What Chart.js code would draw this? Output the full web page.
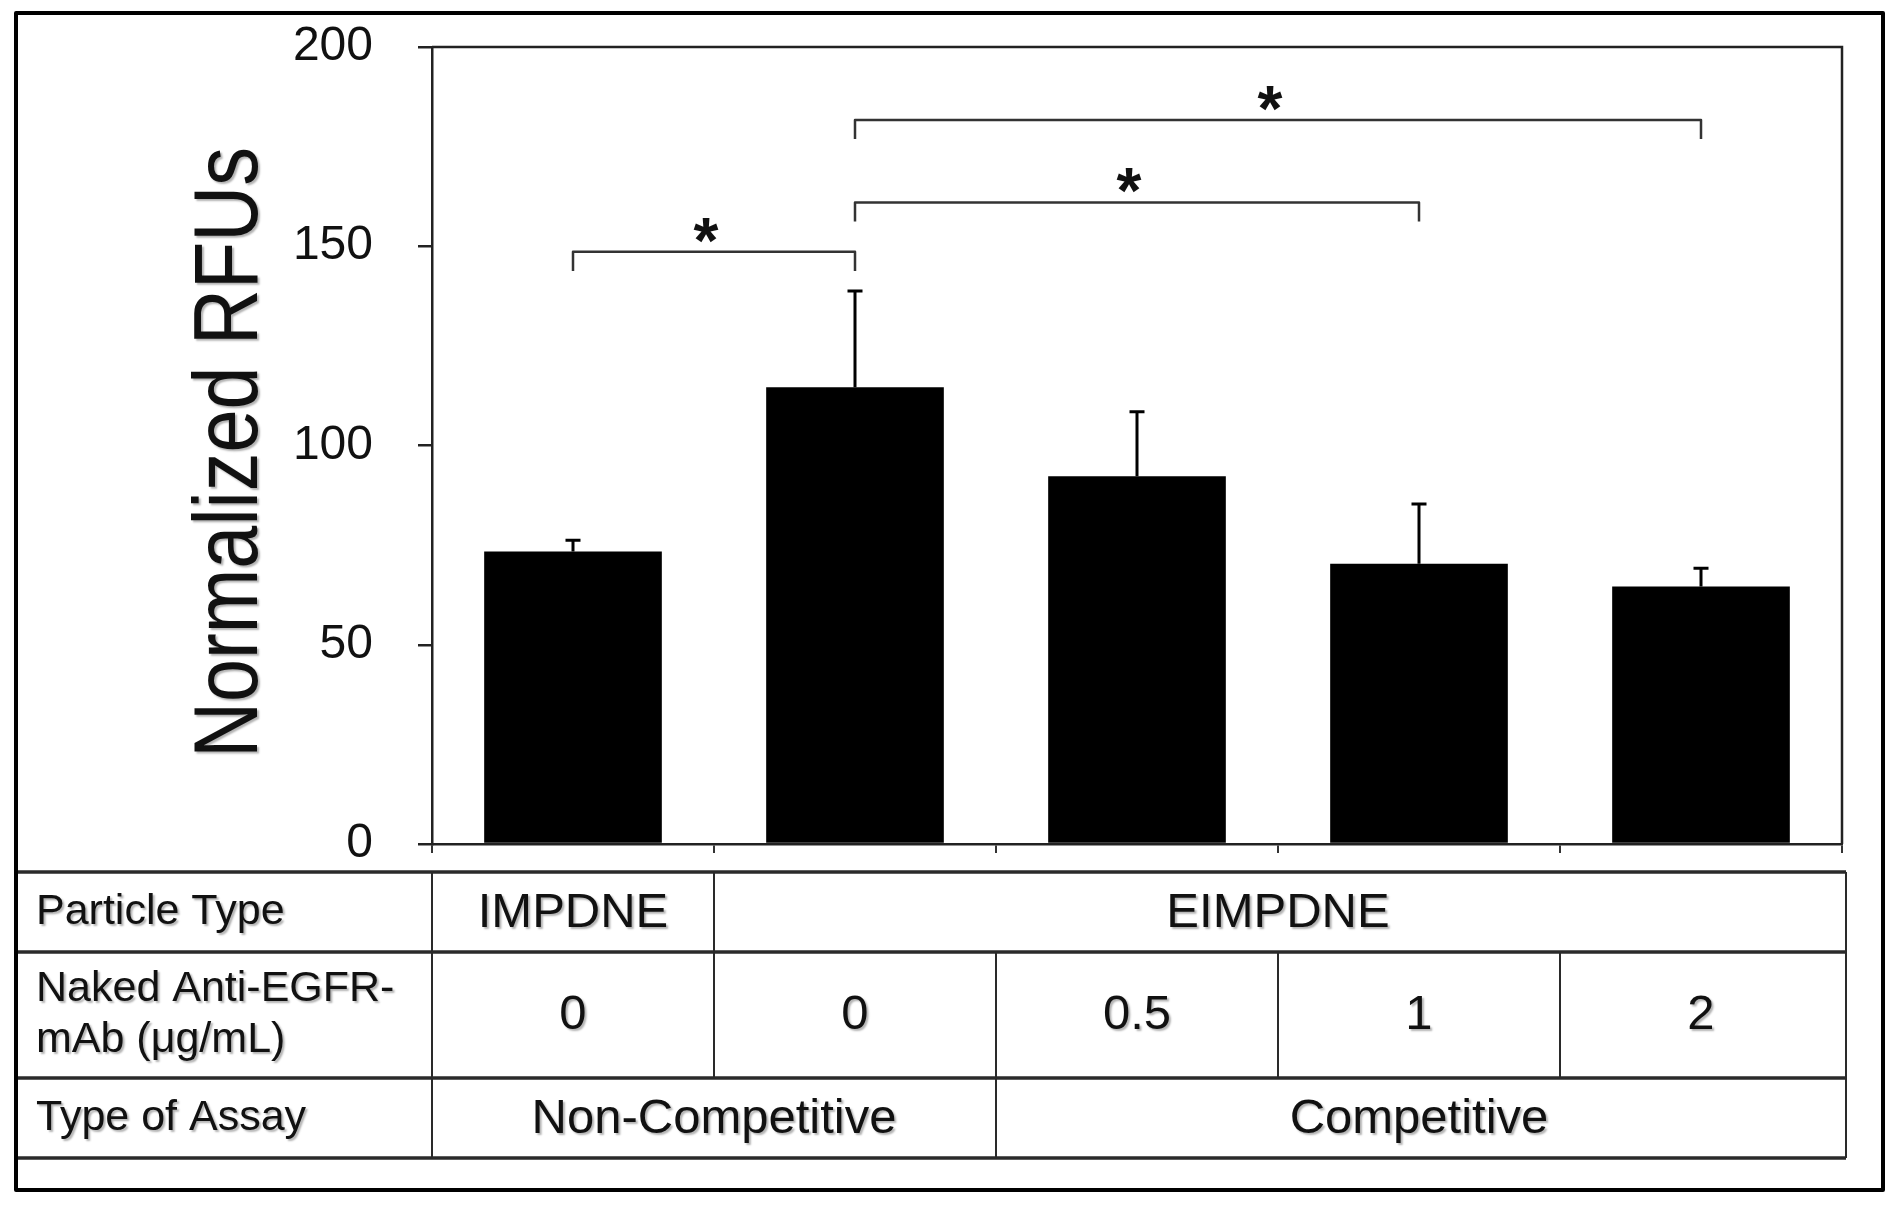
<!DOCTYPE html>
<html><head><meta charset="utf-8">
<script src="https://cdn.jsdelivr.net/npm/chart.js@4"></script>
<style>html,body{margin:0;padding:0;background:#fff}#wrap{width:1898px;height:1212px}</style>
</head><body><div id="wrap"><canvas id="c" width="1898" height="1212"></canvas></div>
<script>
// ---- data ----
const categories = ['IMPDNE 0', 'EIMPDNE 0', 'EIMPDNE 0.5', 'EIMPDNE 1', 'EIMPDNE 2'];
const meanRFU = [73.4, 114.6, 92.3, 70.3, 64.6];
const errRFU = [2.8, 24.2, 16.2, 15.0, 4.6];
const yTickValues = [0, 50, 100, 150, 200];
const sigFrom = [0, 1, 1];
const sigTo = [1, 3, 4];
const sigLevel = [148.6, 161.0, 181.7];
const sigMark = ['*', '*', '*'];
const rowHeaders = [['Particle Type'], ['Naked Anti-EGFR-', 'mAb (\u03bcg/mL)'], ['Type of Assay']];
const particleGroups = [['IMPDNE', 0, 0], ['EIMPDNE', 1, 4]];
const mAbConc = ['0', '0', '0.5', '1', '2'];
const assayGroups = [['Non-Competitive', 0, 1], ['Competitive', 2, 4]];
const yTitle = 'Normalized RFUs';

const FONT = '"Liberation Sans", Arial, Helvetica, sans-serif';

const overlay = {
  id: 'overlay',
  afterDraw(chart) {
    const {ctx, chartArea: ca, scales: {x, y}} = chart;
    const half = (x.getPixelForValue(1) - x.getPixelForValue(0)) / 2;
    const L = i => x.getPixelForValue(i) - half;
    const R = i => x.getPixelForValue(i) + half;
    ctx.save();
    // plot frame top/right
    ctx.strokeStyle = '#222'; ctx.lineWidth = 2.5;
    ctx.beginPath();
    ctx.moveTo(ca.left, ca.top); ctx.lineTo(ca.right, ca.top); ctx.lineTo(ca.right, ca.bottom);
    ctx.stroke();

    // error bars (upper only)
    ctx.strokeStyle = '#000'; ctx.lineWidth = 3;
    meanRFU.forEach((v, i) => {
      const px = x.getPixelForValue(i);
      const y0 = y.getPixelForValue(v), y1 = y.getPixelForValue(v + errRFU[i]);
      ctx.beginPath();
      ctx.moveTo(px, y0); ctx.lineTo(px, y1);
      ctx.moveTo(px - 7.5, y1); ctx.lineTo(px + 7.5, y1);
      ctx.stroke();
    });

    // significance brackets
    ctx.strokeStyle = '#333'; ctx.lineWidth = 2.5; ctx.lineJoin = 'round';
    ctx.fillStyle = '#111';
    sigFrom.forEach((a, k) => {
      const xa = x.getPixelForValue(a), xb = x.getPixelForValue(sigTo[k]);
      const yl = y.getPixelForValue(sigLevel[k]);
      const yd = y.getPixelForValue(sigLevel[k] - 4.8);
      ctx.beginPath();
      ctx.moveTo(xa, yd); ctx.lineTo(xa, yl); ctx.lineTo(xb, yl); ctx.lineTo(xb, yd);
      ctx.stroke();
      ctx.font = 'bold 64px ' + FONT;
      ctx.textAlign = 'center'; ctx.textBaseline = 'alphabetic';
      ctx.fillText(sigMark[k], (xa + xb) / 2 - 8, yl + 11);
    });

    // text shadow like the reference
    ctx.shadowColor = 'rgba(0,0,0,0.3)'; ctx.shadowBlur = 2; ctx.shadowOffsetX = 2; ctx.shadowOffsetY = 2;

    // y title (condensed)
    ctx.save();
    ctx.translate(257, (ca.top + ca.bottom) / 2 + 7);
    ctx.rotate(-Math.PI / 2);
    ctx.scale(0.86, 1);
    ctx.font = '90px ' + FONT;
    ctx.textAlign = 'center'; ctx.textBaseline = 'alphabetic';
    ctx.fillStyle = '#111';
    ctx.fillText(yTitle, 0, 0);
    ctx.restore();

    // table text
    const t0 = ca.bottom + 28;
    const rows = [t0, t0 + 80, t0 + 206, t0 + 286];
    const tl = 17, tr = ca.right + 4;
    ctx.fillStyle = '#111'; ctx.textBaseline = 'middle';
    ctx.font = '43px ' + FONT; ctx.textAlign = 'left';
    const rc = [ (rows[0] + rows[1]) / 2, (rows[1] + rows[2]) / 2, (rows[2] + rows[3]) / 2 ];
    rowHeaders.forEach((lines, r) => {
      const lh = 51;
      lines.forEach((s, j) => ctx.fillText(s, 36, rc[r] + (j - (lines.length - 1) / 2) * lh));
    });
    ctx.font = '49px ' + FONT; ctx.textAlign = 'center';
    particleGroups.forEach(([s, a, b]) => ctx.fillText(s, (L(a) + R(b)) / 2, rc[0] + 1));
    mAbConc.forEach((s, i) => ctx.fillText(s, (L(i) + R(i)) / 2, rc[1]));
    assayGroups.forEach(([s, a, b]) => ctx.fillText(s, (L(a) + R(b)) / 2, rc[2] + 1));
    ctx.shadowColor = 'rgba(0,0,0,0)'; ctx.shadowBlur = 0; ctx.shadowOffsetX = 0; ctx.shadowOffsetY = 0;

    // table lines
    ctx.strokeStyle = '#2a2a2a'; ctx.lineWidth = 3.5;
    rows.forEach(ry => { ctx.beginPath(); ctx.moveTo(tl, ry); ctx.lineTo(tr, ry); ctx.stroke(); });
    ctx.lineWidth = 2;
    const vline = (vx, a, b) => { ctx.beginPath(); ctx.moveTo(vx, rows[a]); ctx.lineTo(vx, rows[b]); ctx.stroke(); };
    vline(tl, 0, 3); vline(tr, 0, 3);
    vline(L(0), 0, 3);
    vline(L(1), 0, 2);
    vline(L(2), 1, 3);
    vline(L(3), 1, 2);
    vline(L(4), 1, 2);

    // outer frame
    ctx.strokeStyle = '#000'; ctx.lineWidth = 4;
    ctx.strokeRect(16, 13, 1867, 1177);
    ctx.restore();
  }
};

new Chart(document.getElementById('c'), {
  type: 'bar',
  data: {
    labels: categories,
    datasets: [{ data: meanRFU, backgroundColor: '#000', borderWidth: 0, barPercentage: 0.63, categoryPercentage: 1 }]
  },
  options: {
    responsive: false,
    animation: false,
    layout: { padding: { top: 47, right: 56, left: 0, bottom: 0 } },
    plugins: { legend: { display: false }, tooltip: { enabled: false }, title: { display: false } },
    scales: {
      x: {
        ticks: { display: false },
        grid: { display: true, drawOnChartArea: false, drawTicks: true, tickLength: 9, color: '#333', lineWidth: 2 },
        border: { display: true, color: '#222', width: 2.5 },
        afterFit(s) { s.height = 368; s.paddingLeft = 0; s.paddingRight = 0; }
      },
      y: {
        min: 0, max: 200,
        afterBuildTicks(s) { s.ticks = yTickValues.map(v => ({ value: v })); },
        ticks: { padding: 45, color: '#111', font: { family: FONT, size: 48 } },
        grid: { drawOnChartArea: false, drawTicks: true, tickLength: 14, color: '#222', lineWidth: 2.5 },
        border: { display: true, color: '#222', width: 2.5 },
        afterFit(s) { s.width = 432; s.paddingTop = 0; s.paddingBottom = 0; }
      }
    }
  },
  plugins: [overlay]
});
</script>
</body></html>
